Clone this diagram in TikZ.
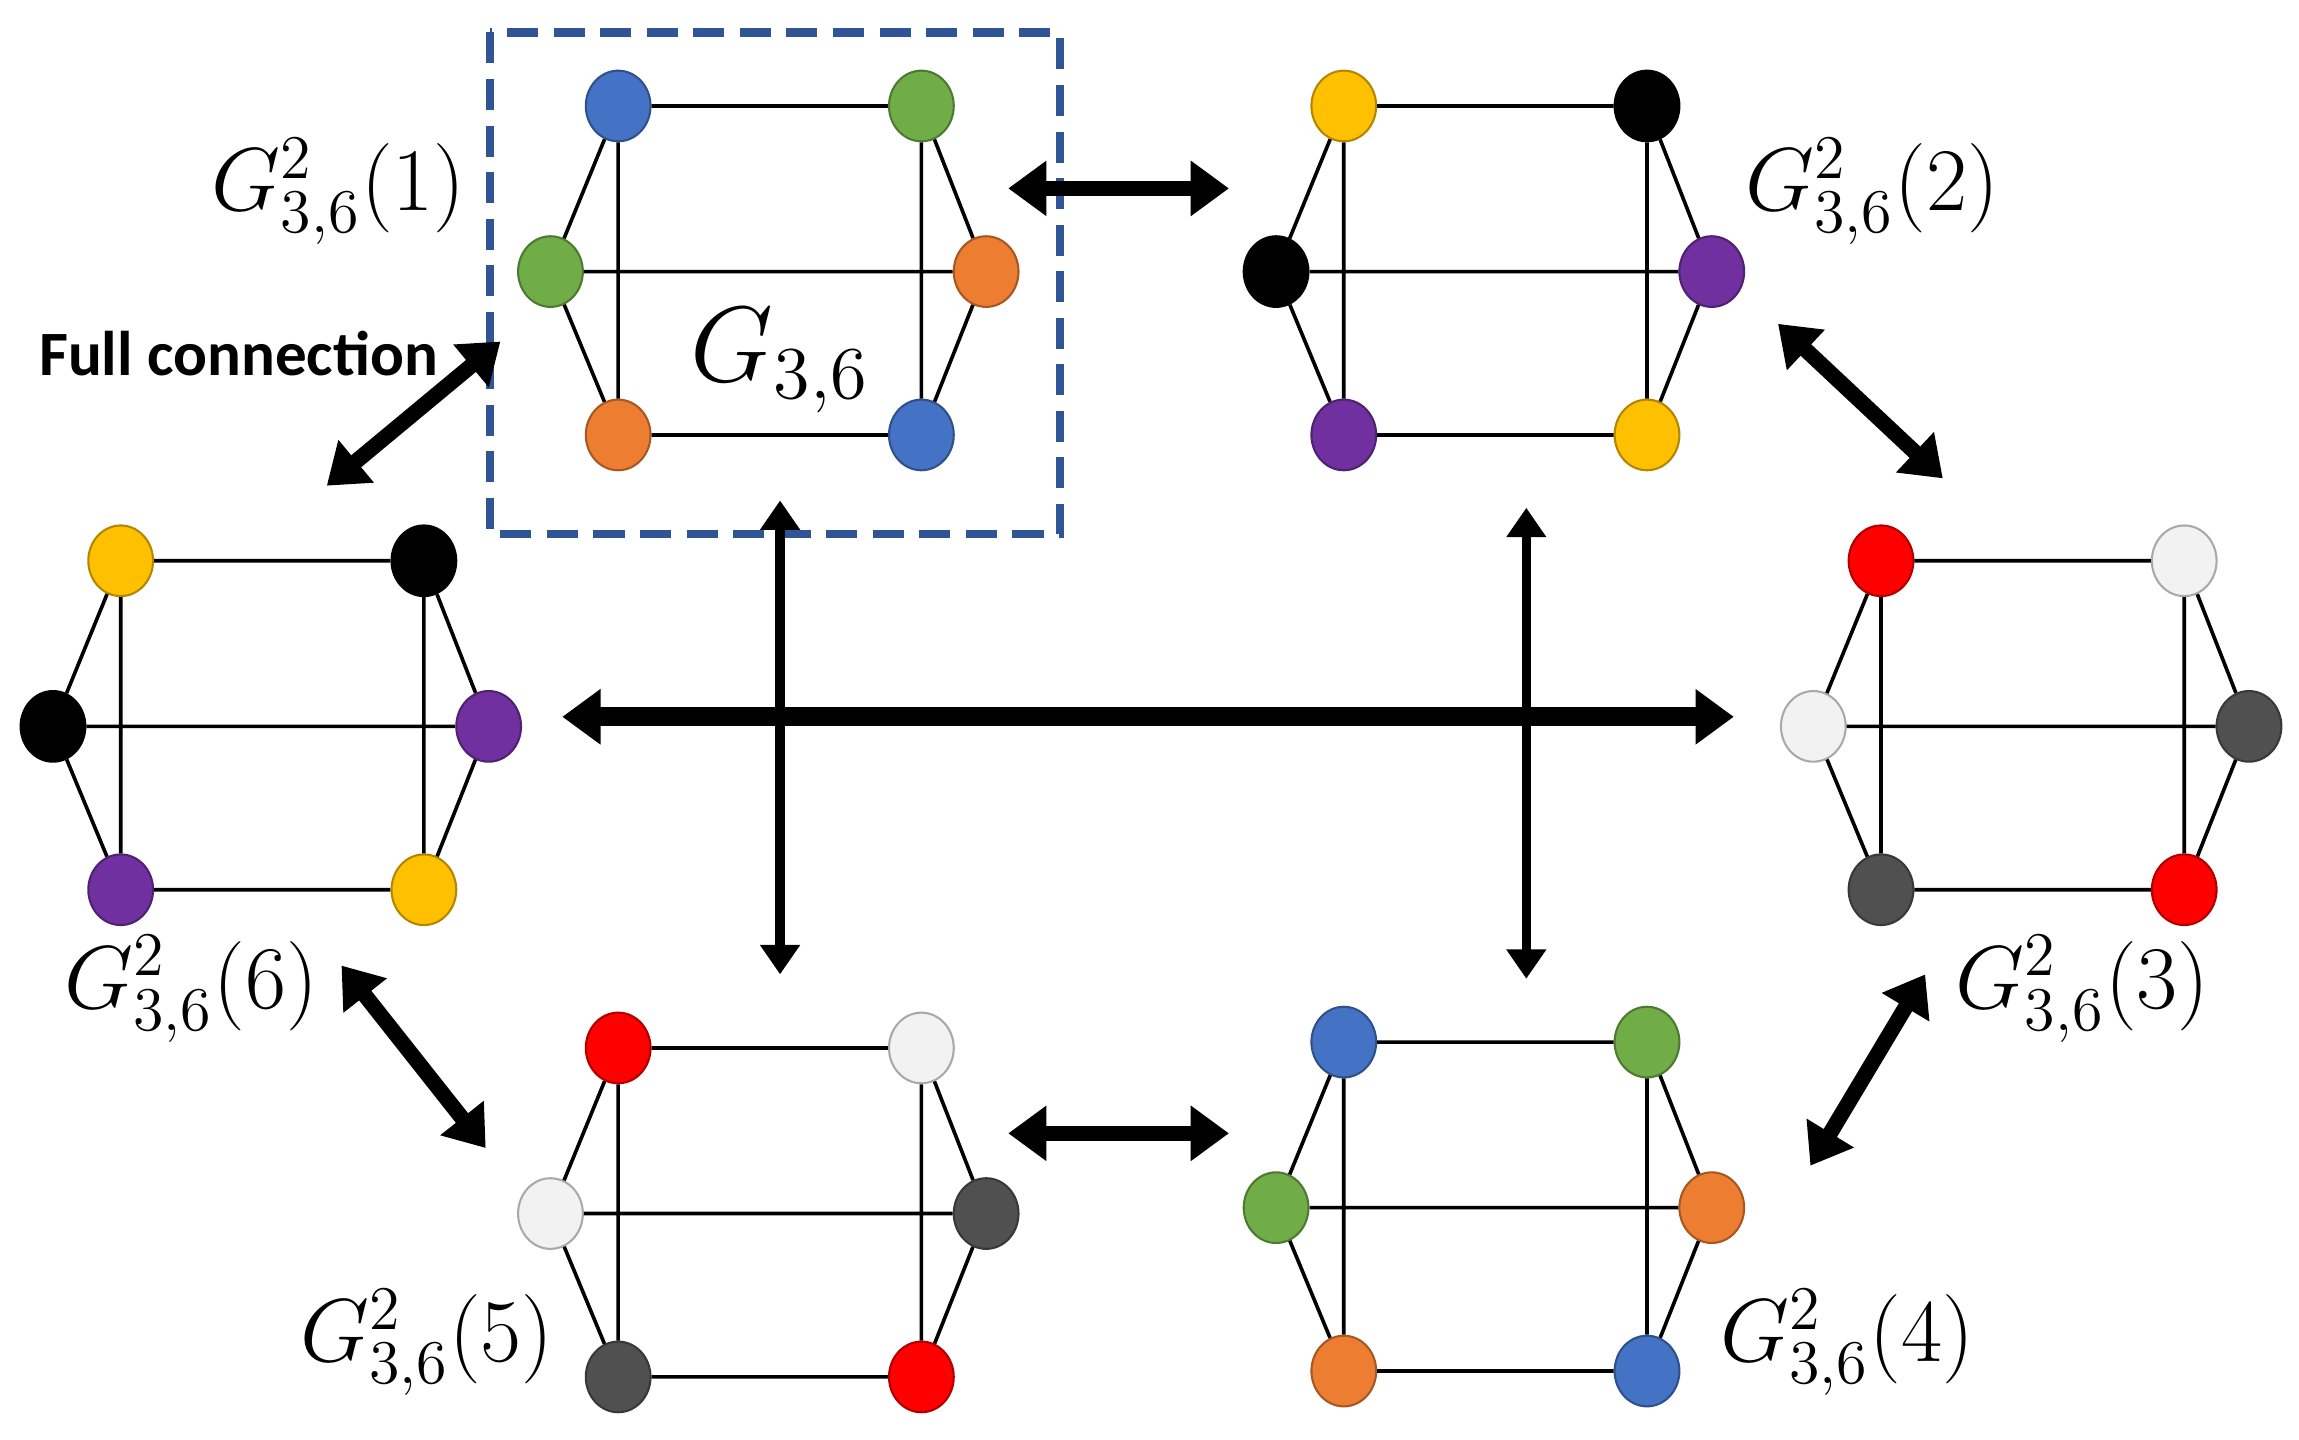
\documentclass[tikz,border=0pt]{standalone}
\usepackage{fontspec}
\newfontfamily\carlitofont{Carlito}
\usetikzlibrary{arrows.meta,shapes.geometric}
\definecolor{cblue}{RGB}{68,114,196}
\definecolor{cgreen}{RGB}{112,173,71}
\definecolor{corange}{RGB}{237,125,49}
\definecolor{cyellow}{RGB}{255,192,0}
\definecolor{cpurple}{RGB}{112,48,160}
\definecolor{cred}{RGB}{255,0,0}
\definecolor{cwhite}{RGB}{242,242,242}
\definecolor{cdark}{RGB}{80,80,80}
\definecolor{boxblue}{RGB}{47,85,151}
\tikzset{
 v/.style={ellipse,draw=#1!70!black,fill=#1,minimum width=0.44cm,minimum height=0.48cm,inner sep=0pt,line width=0.4pt},
 e/.style={line width=0.7pt},
 big/.style={line width=3pt,{Triangle[length=0.26cm,width=0.36cm]}-{Triangle[length=0.26cm,width=0.36cm]}},
 mid/.style={line width=1.8pt,{Triangle[length=0.2cm,width=0.26cm]}-{Triangle[length=0.2cm,width=0.26cm]}},
 lab/.style={font=\fontsize{17}{20}\selectfont}
}
% #1 prefix, #2 x, #3 y (TL), colours TL TR ML MR BL
\newcommand\mygraph[8]{
 \node[v=#4] (#1a) at (#2,#3) {};
 \node[v=#5] (#1b) at (#2+2.06,#3) {};
 \node[v=#6] (#1c) at (#2-0.46,#3-1.125) {};
 \node[v=#7] (#1d) at (#2+2.5,#3-1.125) {};
 \node[v=#8] (#1e) at (#2,#3-2.235) {};
 \node[v=#4] (#1f) at (#2+2.06,#3-2.235) {};
 \draw[e] (#1a)--(#1b) (#1c)--(#1d) (#1e)--(#1f) (#1a)--(#1e) (#1b)--(#1f)
   (#1c)--(#1a) (#1c)--(#1e) (#1d)--(#1b) (#1d)--(#1f);
}
\begin{document}
\begin{tikzpicture}
\useasboundingbox (0,0) rectangle (15.62,-9.78);
\draw[boxblue,line width=1.6pt,dash pattern=on 6pt off 3pt] (3.33,-0.22) rectangle (7.20,-3.63);
\mygraph{g1}{4.20}{-0.72}{cblue}{cgreen}{cgreen}{corange}{corange}
\mygraph{g2}{9.13}{-0.72}{cyellow}{black}{black}{cpurple}{cpurple}
\mygraph{g6}{0.82}{-3.81}{cyellow}{black}{black}{cpurple}{cpurple}
\mygraph{g3}{12.78}{-3.81}{cred}{cwhite}{cwhite}{cdark}{cdark}
\mygraph{g5}{4.20}{-7.12}{cred}{cwhite}{cwhite}{cdark}{cdark}
\mygraph{g4}{9.13}{-7.08}{cblue}{cgreen}{cgreen}{corange}{corange}
\node[lab] (l1) at (2.30,-1.30) {$G^2_{3,6}(1)$};
\node[lab] (l2) at (12.72,-1.30) {$G^2_{3,6}(2)$};
\node[lab] (l3) at (14.15,-6.72) {$G^2_{3,6}(3)$};
\node[lab] (l4) at (12.55,-9.12) {$G^2_{3,6}(4)$};
\node[lab] (l5) at (2.90,-9.12) {$G^2_{3,6}(5)$};
\node[lab] (l6) at (1.30,-6.72) {$G^2_{3,6}(6)$};
\node[font=\fontsize{21}{24}\selectfont] (g) at (5.30,-2.45) {$G_{3,6}$};
\node[font=\carlitofont\bfseries\fontsize{12.2}{15}\selectfont] (fc) at (1.62,-2.40) {Full connection};
\coordinate (a1) at (6.85,-1.28); \coordinate (a2) at (8.35,-1.28);
\draw[big] (a1)--(a2);
\coordinate (b1) at (12.08,-2.20); \coordinate (b2) at (13.20,-3.25);
\draw[big] (b1)--(b2);
\coordinate (c1) at (13.08,-6.62); \coordinate (c2) at (12.30,-7.92);
\draw[big] (c1)--(c2);
\coordinate (d1) at (6.85,-7.70); \coordinate (d2) at (8.35,-7.70);
\draw[big] (d1)--(d2);
\coordinate (e1) at (2.32,-6.56); \coordinate (e2) at (3.30,-7.80);
\draw[big] (e1)--(e2);
\coordinate (f1) at (2.22,-3.30); \coordinate (f2) at (3.40,-2.32);
\draw[big] (f1)--(f2);
\coordinate (h1) at (3.82,-4.87); \coordinate (h2) at (11.78,-4.87);
\draw[big,line width=3.6pt] (h1)--(h2);
\coordinate (p1) at (5.30,-3.40); \coordinate (p2) at (5.30,-6.62);
\draw[mid] (p1)--(p2);
\coordinate (q1) at (10.37,-3.45); \coordinate (q2) at (10.37,-6.65);
\draw[mid] (q1)--(q2);
\end{tikzpicture}
\end{document}
